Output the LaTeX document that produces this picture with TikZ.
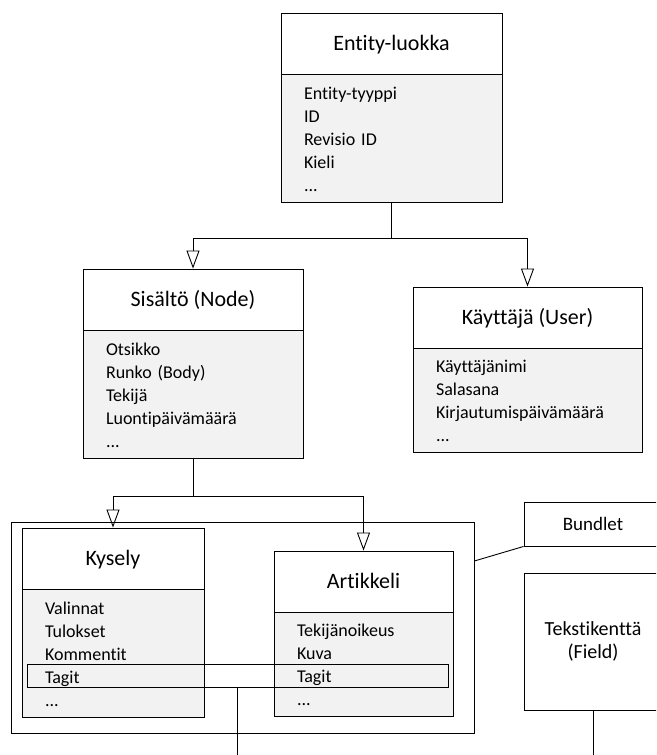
\documentclass[tikz,border=0pt]{standalone}
\usepackage{fontspec}
\setmainfont[Ligatures=NoCommon]{Carlito}
\usetikzlibrary{positioning,arrows.meta}
\definecolor{boxgray}{HTML}{F2F2F2}
\newcommand{\headfont}{\fontsize{22}{26}\selectfont}
\newcommand{\attrfont}{\fontsize{18}{23}\selectfont}
\tikzset{
  head/.style={draw, fill=white, font=\headfont, minimum width=#1, minimum height=61pt, text height=14pt, text depth=0pt, inner sep=0pt},
  attrs/.style={draw, fill=boxgray, font=\attrfont, align=left, text width=#1, inner xsep=23pt, inner ysep=0pt},
  inherit/.style={-{Triangle[open,length=18pt,width=13pt]}},
}
\begin{document}
\begin{tikzpicture}[x=1pt, y=-1pt, line width=0.9pt]
\useasboundingbox (0,0) rectangle (656,755);
\clip (0,0) rectangle (656,755);
\node[draw, minimum width=463pt, minimum height=211pt] (bundle) at (242.5,627.5) {};
\node[head=221pt] (entH) at (391.5,43.5) {Entity-luokka};
\node[attrs=175pt, minimum height=128pt, below=0pt of entH] (entA) {Entity-tyyppi\\ID\\Revisio ID\\Kieli\\...};
\node[head=220pt] (sisH) at (193,299.5) {Sisältö (Node)};
\node[attrs=174pt, minimum height=128pt, below=0pt of sisH] (sisA) {Otsikko\\Runko (Body)\\Tekijä\\Luontipäivämäärä\\...};
\node[head=229pt] (userH) at (527.5,317.5) {Käyttäjä (User)};
\node[attrs=183pt, minimum height=104pt, below=0pt of userH] (userA) {Käyttäjänimi\\Salasana\\Kirjautumispäivämäärä\\...};
\node[head=182pt] (kysH) at (113,558.5) {Kysely};
\node[attrs=136pt, minimum height=128pt, below=0pt of kysH] (kysA) {Valinnat\\Tulokset\\Kommentit\\Tagit\\...};
\node[head=179pt] (artH) at (363.5,581.5) {Artikkeli};
\node[attrs=133pt, minimum height=104pt, below=0pt of artH] (artA) {Tekijänoikeus\\Kuva\\Tagit\\...};
\node[draw, minimum width=421pt, minimum height=23pt] (tagit) at (237.5,675.5) {};
\node[draw, minimum width=138pt, minimum height=44pt, font=\fontsize{19}{22}\selectfont] (bundlet) at (593,524) {Bundlet};
\node[draw, minimum width=138pt, minimum height=137pt, align=center, font=\fontsize{20}{23}\selectfont] (field) at (593,641.5) {Tekstikenttä\\(Field)};
\coordinate (entJ) at (391.5,238);
\coordinate (sisJ) at (193,496);
\coordinate (tagEnd) at (237.5,760);
\coordinate (fieldEnd) at (593,760);
\draw (entA.south) -- (entJ);
\draw[inherit] (entJ) -| (sisH.north);
\draw[inherit] (entJ) -| (userH.north);
\draw (sisA.south) -- (sisJ);
\draw[inherit] (sisJ) -| (kysH.north);
\draw[inherit] (sisJ) -| (artH.north);
\draw (bundle.16.7) -- (bundlet.south west);
\draw (tagit.south) -- (tagEnd);
\draw (field.south) -- (fieldEnd);
\end{tikzpicture}
\end{document}
